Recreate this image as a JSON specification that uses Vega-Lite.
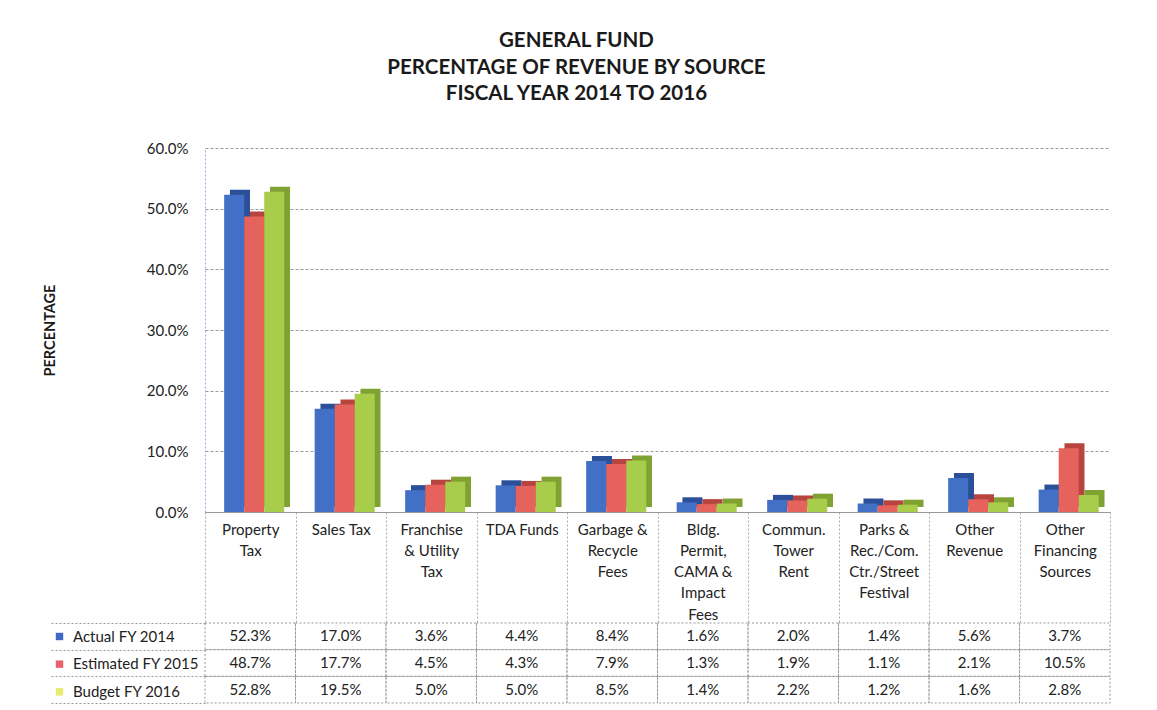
{
  "$schema": "https://vega.github.io/schema/vega-lite/v6.json",
  "background": "white",
  "padding": {"left": 42, "top": 31, "right": 20, "bottom": 5},
  "config": {"view": {"stroke": null}, "font": "Lato"},
  "title": {
    "text": ["GENERAL FUND", "PERCENTAGE OF REVENUE BY SOURCE", "FISCAL YEAR 2014 TO 2016"],
    "font": "Lato", "fontSize": 20.5, "fontWeight": "bold", "lineHeight": 26.7,
    "anchor": "middle", "color": "#1a1a1a", "offset": 36
  },
  "bounds": "flush",
  "spacing": 111,
  "datasets": {
    "rev": [
      {"cat": "Property Tax", "series": "Actual FY 2014", "value": 0.523},
      {"cat": "Sales Tax", "series": "Actual FY 2014", "value": 0.170},
      {"cat": "Franchise & Utility Tax", "series": "Actual FY 2014", "value": 0.036},
      {"cat": "TDA Funds", "series": "Actual FY 2014", "value": 0.044},
      {"cat": "Garbage & Recycle Fees", "series": "Actual FY 2014", "value": 0.084},
      {"cat": "Bldg. Permit, CAMA & Impact Fees", "series": "Actual FY 2014", "value": 0.016},
      {"cat": "Commun. Tower Rent", "series": "Actual FY 2014", "value": 0.020},
      {"cat": "Parks & Rec./Com. Ctr./Street Festival", "series": "Actual FY 2014", "value": 0.014},
      {"cat": "Other Revenue", "series": "Actual FY 2014", "value": 0.056},
      {"cat": "Other Financing Sources", "series": "Actual FY 2014", "value": 0.037},
      {"cat": "Property Tax", "series": "Estimated FY 2015", "value": 0.487},
      {"cat": "Sales Tax", "series": "Estimated FY 2015", "value": 0.177},
      {"cat": "Franchise & Utility Tax", "series": "Estimated FY 2015", "value": 0.045},
      {"cat": "TDA Funds", "series": "Estimated FY 2015", "value": 0.043},
      {"cat": "Garbage & Recycle Fees", "series": "Estimated FY 2015", "value": 0.079},
      {"cat": "Bldg. Permit, CAMA & Impact Fees", "series": "Estimated FY 2015", "value": 0.013},
      {"cat": "Commun. Tower Rent", "series": "Estimated FY 2015", "value": 0.019},
      {"cat": "Parks & Rec./Com. Ctr./Street Festival", "series": "Estimated FY 2015", "value": 0.011},
      {"cat": "Other Revenue", "series": "Estimated FY 2015", "value": 0.021},
      {"cat": "Other Financing Sources", "series": "Estimated FY 2015", "value": 0.105},
      {"cat": "Property Tax", "series": "Budget FY 2016", "value": 0.528},
      {"cat": "Sales Tax", "series": "Budget FY 2016", "value": 0.195},
      {"cat": "Franchise & Utility Tax", "series": "Budget FY 2016", "value": 0.050},
      {"cat": "TDA Funds", "series": "Budget FY 2016", "value": 0.050},
      {"cat": "Garbage & Recycle Fees", "series": "Budget FY 2016", "value": 0.085},
      {"cat": "Bldg. Permit, CAMA & Impact Fees", "series": "Budget FY 2016", "value": 0.014},
      {"cat": "Commun. Tower Rent", "series": "Budget FY 2016", "value": 0.022},
      {"cat": "Parks & Rec./Com. Ctr./Street Festival", "series": "Budget FY 2016", "value": 0.012},
      {"cat": "Other Revenue", "series": "Budget FY 2016", "value": 0.016},
      {"cat": "Other Financing Sources", "series": "Budget FY 2016", "value": 0.028}
    ]
  },
  "resolve": {"scale": {"x": "independent", "color": "independent"}, "legend": {"color": "independent"}},
  "vconcat": [
    {
      "width": 905,
      "height": 364,
      "data": {"name": "rev"},
      "encoding": {
        "x": {
          "field": "cat", "type": "nominal",
          "sort": ["Property Tax", "Sales Tax", "Franchise & Utility Tax", "TDA Funds", "Garbage & Recycle Fees", "Bldg. Permit, CAMA & Impact Fees", "Commun. Tower Rent", "Parks & Rec./Com. Ctr./Street Festival", "Other Revenue", "Other Financing Sources"],
          "scale": {"paddingInner": 0, "paddingOuter": 0},
          "axis": {
            "title": null, "orient": "bottom",
            "domain": true, "domainColor": "#999999",
            "ticks": true, "tickBand": "extent", "tickSize": 111, "tickColor": "#aaaaaa", "tickDash": [2, 2],
            "labelAngle": 0, "labelFontSize": 15, "labelLineHeight": 21.3, "labelPadding": -101,
            "labelLimit": 0, "labelColor": "#222222", "labelBaseline": "top",
            "labelExpr": "{'Property Tax': ['Property', 'Tax'], 'Sales Tax': ['Sales Tax'], 'Franchise & Utility Tax': ['Franchise', '& Utility', 'Tax'], 'TDA Funds': ['TDA Funds'], 'Garbage & Recycle Fees': ['Garbage &', 'Recycle', 'Fees'], 'Bldg. Permit, CAMA & Impact Fees': ['Bldg.', 'Permit,', 'CAMA &', 'Impact', 'Fees'], 'Commun. Tower Rent': ['Commun.', 'Tower', 'Rent'], 'Parks & Rec./Com. Ctr./Street Festival': ['Parks &', 'Rec./Com.', 'Ctr./Street', 'Festival'], 'Other Revenue': ['Other', 'Revenue'], 'Other Financing Sources': ['Other', 'Financing', 'Sources']}[datum.label]"
          }
        },
        "y": {
          "field": "value", "type": "quantitative",
          "scale": {"domain": [0, 0.6], "nice": false},
          "axis": {
            "title": "PERCENTAGE", "titleFontSize": 14.5, "titleFontWeight": "bold", "titleColor": "#1a1a1a",
            "titlePadding": 89,
            "values": [0, 0.1, 0.2, 0.3, 0.4, 0.5, 0.6], "format": ".1%",
            "labelFontSize": 15, "labelPadding": 17, "labelColor": "#222222",
            "ticks": false, "domain": true, "domainColor": "#8fa8d8", "domainDash": [2, 2],
            "grid": true, "gridColor": "#9a9a9a", "gridDash": [3, 2]
          }
        }
      },
      "resolve": {"scale": {"xOffset": "independent"}},
      "layer": [
        {
          "mark": {"type": "bar", "yOffset": -5, "y2Offset": -5},
          "encoding": {
            "xOffset": {
              "field": "series", "type": "nominal",
              "sort": ["Actual FY 2014", "Estimated FY 2015", "Budget FY 2016"],
              "scale": {"paddingInner": 0, "paddingOuter": 0.76, "align": 0.82}
            },
            "fill": {
              "field": "series", "type": "nominal", "legend": null,
              "scale": {"domain": ["Actual FY 2014", "Estimated FY 2015", "Budget FY 2016"], "range": ["#2b4f98", "#b8443f", "#7fa233"]}
            }
          }
        },
        {
          "mark": {"type": "bar"},
          "encoding": {
            "xOffset": {
              "field": "series", "type": "nominal",
              "sort": ["Actual FY 2014", "Estimated FY 2015", "Budget FY 2016"],
              "scale": {"paddingInner": 0, "paddingOuter": 0.76, "align": 0.63}
            },
            "color": {
              "field": "series", "type": "nominal", "legend": null,
              "scale": {"domain": ["Actual FY 2014", "Estimated FY 2015", "Budget FY 2016"], "range": ["#4170c6", "#e6625d", "#a8cd4a"]}
            }
          }
        }
      ]
    },
    {
      "width": 905,
      "height": 80,
      "data": {"name": "rev"},
      "encoding": {
        "x": {
          "field": "cat", "type": "nominal",
          "sort": ["Property Tax", "Sales Tax", "Franchise & Utility Tax", "TDA Funds", "Garbage & Recycle Fees", "Bldg. Permit, CAMA & Impact Fees", "Commun. Tower Rent", "Parks & Rec./Com. Ctr./Street Festival", "Other Revenue", "Other Financing Sources"],
          "scale": {"paddingInner": 0, "paddingOuter": 0},
          "axis": null
        },
        "y": {
          "field": "series", "type": "nominal",
          "sort": ["Actual FY 2014", "Estimated FY 2015", "Budget FY 2016"],
          "scale": {"paddingInner": 0, "paddingOuter": 0},
          "axis": {
            "title": null, "labels": false, "domain": false, "grid": false,
            "ticks": true, "tickBand": "extent", "tickSize": 155, "tickColor": "#999999", "tickDash": [2, 2]
          }
        }
      },
      "layer": [
        {
          "mark": {"type": "rect", "fill": "white", "fillOpacity": 0, "stroke": "#999999", "strokeDash": [2, 2], "strokeWidth": 1}
        },
        {
          "mark": {"type": "text", "fontSize": 15, "color": "#222222"},
          "encoding": {"text": {"field": "value", "type": "quantitative", "format": ".1%"}}
        },
        {
          "mark": {"type": "square", "opacity": 0},
          "encoding": {
            "color": {
              "field": "series", "type": "nominal",
              "scale": {"domain": ["Actual FY 2014", "Estimated FY 2015", "Budget FY 2016"], "range": ["#3f66c8", "#e8606a", "#e4ea72"]},
              "legend": {
                "orient": "left", "title": null, "offset": -156, "padding": 6,
                "symbolType": "square", "symbolSize": 55, "symbolOpacity": 1, "symbolStrokeWidth": 0,
                "labelFontSize": 15, "labelColor": "#222222", "labelOffset": 6, "rowPadding": 11.67
              }
            }
          }
        }
      ]
    }
  ]
}
